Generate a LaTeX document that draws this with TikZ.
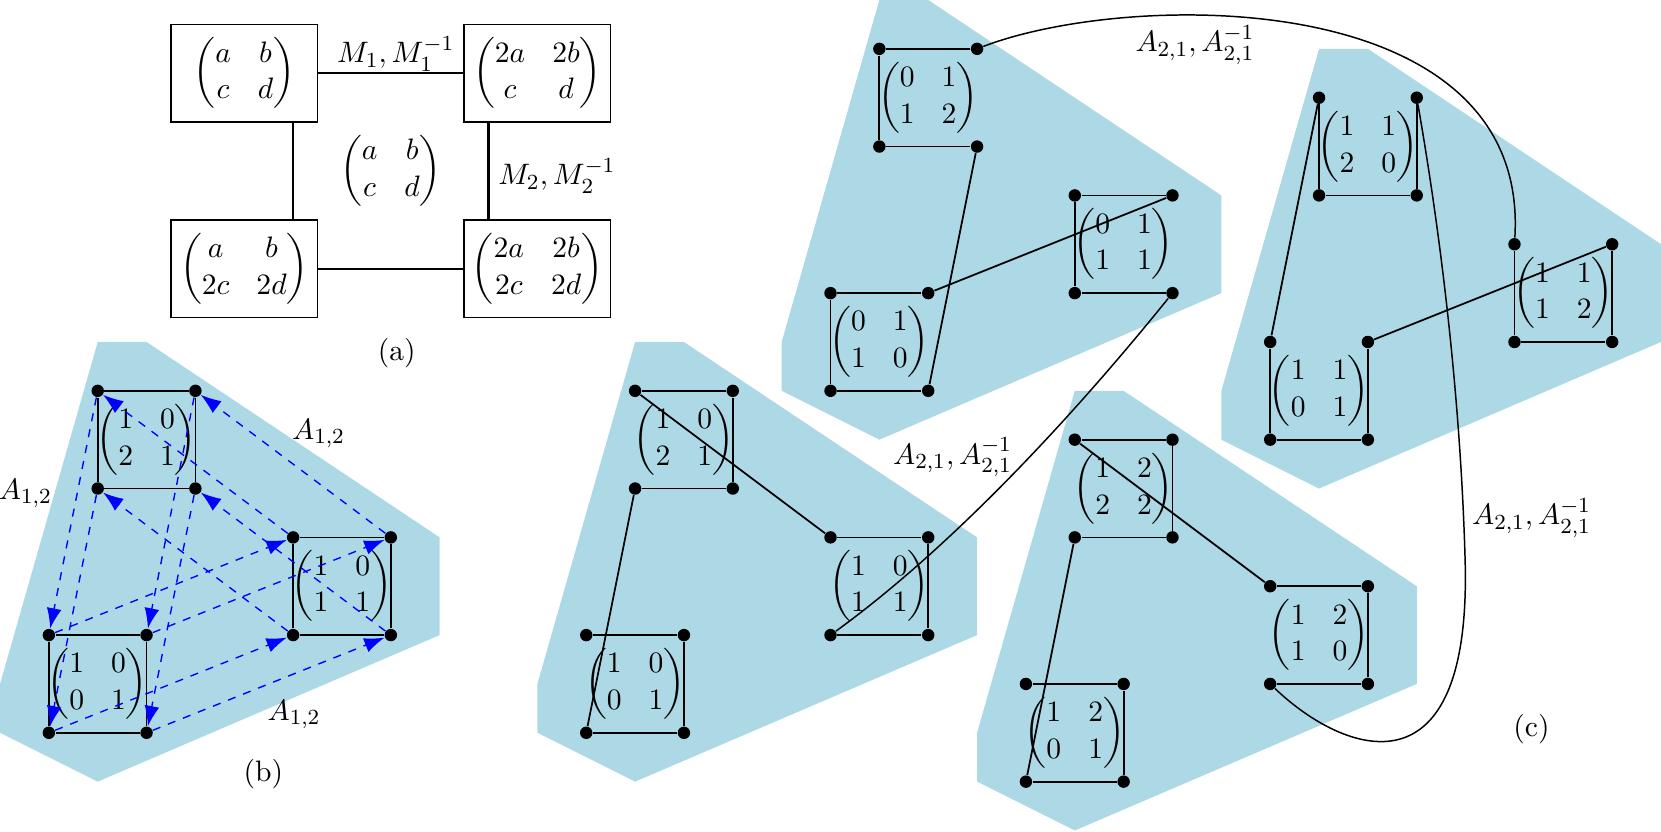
\documentclass[tikz,border=0pt,11pt]{standalone}
\usepackage{amsmath}
\usetikzlibrary{arrows.meta}
\definecolor{lb}{RGB}{173,216,230}
\newcommand{\mkSquare}[4]{%
  \node[dot] (#1tl) at (#2,#3) {};
  \node[dot] (#1tr) at (#2+2,#3) {};
  \node[dot] (#1bl) at (#2,#3+2) {};
  \node[dot] (#1br) at (#2+2,#3+2) {};
  \node[mat] (#1m) at (#2+1,#3+1) {$\begin{pmatrix}#4\end{pmatrix}$};
}
\newcommand{\blobAt}[2]{%
  \fill[lb] (#1,#2-1) -- (#1+1,#2-1) -- (#1+7,#2+3) -- (#1+7,#2+5) -- (#1,#2+8) -- (#1-2,#2+7) -- (#1-2,#2+6) -- cycle;
}
\begin{document}
\begin{tikzpicture}[x=18.09pt,y=-18.09pt,
  dot/.style={circle,fill=black,inner sep=0pt,minimum size=4.6pt},
  mat/.style={inner sep=0pt},
  edge/.style={line width=0.65pt},
  curve/.style={line width=0.55pt},
  arr/.style={blue,dashed,line width=0.5pt,-{Latex[length=7.5pt,width=5.5pt]}},
  box/.style={draw,line width=0.5pt,minimum width=54.27pt,minimum height=36.18pt,inner sep=0.5pt},
  link/.style={line width=0.8pt},
  lab/.style={inner sep=1pt}
]
\useasboundingbox (0,0) rectangle (34,17.03);

% blue regions
\blobAt{2}{8}
\blobAt{13}{8}
\blobAt{18}{1}
\blobAt{27}{2}
\blobAt{22}{9}

% ---------------- panel (a)
\node[box] (ma) at (5,1.5) {$\begin{pmatrix}a&b\\c&d\end{pmatrix}$};
\node[box] (mb) at (11,1.5) {$\begin{pmatrix}2a&2b\\c&d\end{pmatrix}$};
\node[box] (mc) at (5,5.5) {$\begin{pmatrix}a&b\\2c&2d\end{pmatrix}$};
\node[box] (md) at (11,5.5) {$\begin{pmatrix}2a&2b\\2c&2d\end{pmatrix}$};
\node[mat] (mcenter) at (8,3.5) {$\begin{pmatrix}a&b\\c&d\end{pmatrix}$};
\draw[link] (ma) -- (mb);
\draw[link] (mc) -- (md);
\draw[link] ([xshift=18.09pt]ma.south) -- ([xshift=18.09pt]mc.north);
\draw[link] ([xshift=-18.09pt]mb.south) -- ([xshift=-18.09pt]md.north);
\node[lab] (lm1) at (8.1,1.1) {$M_1, M_1^{-1}$};
\node[lab] (lm2) at (11.4,3.6) {$M_2, M_2^{-1}$};
\node[lab] (la) at (8.12,7.23) {(a)};

% ---------------- panel (b)
\mkSquare{bt}{2}{8}{1&0\\2&1}
\mkSquare{br}{6}{11}{1&0\\1&1}
\mkSquare{bb}{1}{13}{1&0\\0&1}
\foreach \s in {bt,br,bb}{
  \draw[edge] (\s tl) -- (\s tr) -- (\s br) -- (\s bl) -- (\s tl);
}
\foreach \c in {tl,tr,bl,br}{
  \draw[arr] (bt\c) -- (bb\c);
  \draw[arr] (bb\c) -- (br\c);
  \draw[arr] (br\c) -- (bt\c);
}
\node[lab] (lb1) at (0.52,10.1) {$A_{1,2}$};
\node[lab] (lb2) at (6.52,8.87) {$A_{1,2}$};
\node[lab] (lb3) at (6.02,14.62) {$A_{1,2}$};
\node[lab] (lbb) at (5.39,15.84) {(b)};

% ---------------- panel (c)
\mkSquare{pa}{13}{8}{1&0\\2&1}
\mkSquare{pb}{17}{11}{1&0\\1&1}
\mkSquare{pc}{12}{13}{1&0\\0&1}
\mkSquare{qa}{18}{1}{0&1\\1&2}
\mkSquare{qb}{22}{4}{0&1\\1&1}
\mkSquare{qc}{17}{6}{0&1\\1&0}
\mkSquare{ra}{27}{2}{1&1\\2&0}
\mkSquare{rb}{31}{5}{1&1\\1&2}
\mkSquare{rc}{26}{7}{1&1\\0&1}
\mkSquare{sa}{22}{9}{1&2\\2&2}
\mkSquare{sb}{26}{12}{1&2\\1&0}
\mkSquare{sc}{21}{14}{1&2\\0&1}

\foreach \s in {pa,pb,pc,sa,sb,sc}{
  \draw[edge] (\s tl) -- (\s tr) -- (\s br) -- (\s bl);
}
\foreach \s in {qa,qb,qc}{
  \draw[edge] (\s tr) -- (\s tl) -- (\s bl) -- (\s br);
}
\foreach \s in {ra,rb,rc}{
  \draw[edge] (\s tl) -- (\s bl) -- (\s br) -- (\s tr);
}

\draw[edge] (patl) -- (pbtl);
\draw[edge] (pabl) -- (pcbl);
\draw[edge] (qabr) -- (qcbr);
\draw[edge] (qctr) -- (qbtr);
\draw[edge] (ratl) -- (rctl);
\draw[edge] (rctr) -- (rbtr);
\draw[edge] (satl) -- (sbtl);
\draw[edge] (sabl) -- (scbl);

\draw[curve] (qbbr) .. controls (21.9,8.6) and (19.45,11.22) .. (pbbl);
\draw[curve] (qatr) .. controls (23.13,-0.2) and (31.32,-0.3) .. (rbtl);
\coordinate (cmid) at (29.99,11.46);
\draw[curve] (ratr) .. controls (29.58,5.32) and (29.91,8.6) .. (cmid)
  .. controls (30.13,16.38) and (27.53,15.46) .. (sbbl);

\node[lab] (lc1) at (24.46,0.92) {$A_{2,1}, A_{2,1}^{-1}$};
\node[lab] (lc2) at (19.5,9.36) {$A_{2,1}, A_{2,1}^{-1}$};
\node[lab] (lc3) at (31.35,10.6) {$A_{2,1}, A_{2,1}^{-1}$};
\node[lab] (lcc) at (31.35,14.92) {(c)};
\end{tikzpicture}
\end{document}
